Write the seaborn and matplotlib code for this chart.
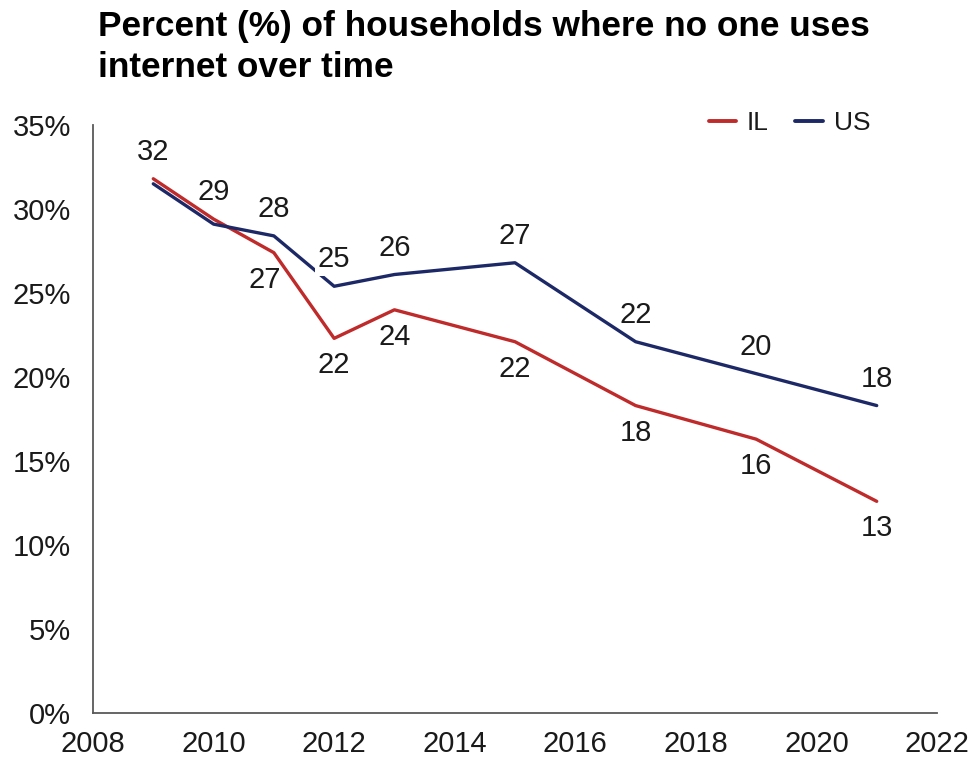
import matplotlib
matplotlib.use("Agg")
import matplotlib.pyplot as plt
from matplotlib.lines import Line2D
from matplotlib.ticker import PercentFormatter
import seaborn as sns
import pandas as pd

# Share of households where no one uses the internet (%)
years = [2009, 2010, 2011, 2012, 2013, 2015, 2017, 2019, 2021]
il_values = [31.8, 29.4, 27.4, 22.3, 24.0, 22.1, 18.3, 16.3, 12.6]
us_values = [31.5, 29.1, 28.4, 25.4, 26.1, 26.8, 22.1, 20.2, 18.3]
series_names = ["IL", "US"]
y_ticks = [0, 5, 10, 15, 20, 25, 30, 35]
x_ticks = [2008, 2010, 2012, 2014, 2016, 2018, 2020, 2022]

# Which labels sit above (+1) or below (-1) the line; 0 = no label
il_label_side = [1, 1, -1, -1, -1, -1, -1, -1, -1]
us_label_side = [0, 0, 1, 1, 1, 1, 1, 1, 1]

colors = {"IL": "#BF2A2A", "US": "#1C2966"}

df = pd.DataFrame({
    "year": years * 2,
    "value": il_values + us_values,
    "series": ["IL"] * len(years) + ["US"] * len(years),
})

sns.set_theme(style="white")
plt.rcParams["font.family"] = ["Liberation Sans", "DejaVu Sans"]

fig = plt.figure(figsize=(9.75, 7.58), dpi=100)
ax = fig.add_axes([93 / 975, 1 - 713 / 758, (937 - 93) / 975, (713 - 125) / 758])

sns.lineplot(data=df, x="year", y="value", hue="series", palette=colors,
             hue_order=series_names, linewidth=2.4, legend=False, ax=ax)

ax.set_xlim(2008, 2022)
ax.set_ylim(0, 35)
ax.set_xticks(x_ticks)
ax.set_yticks(y_ticks)
ax.yaxis.set_major_formatter(PercentFormatter(decimals=0))
ax.set_xlabel("")
ax.set_ylabel("")
ax.tick_params(axis="both", labelsize=21, colors="#000000", length=0)
ax.tick_params(axis="y", pad=16)
ax.tick_params(axis="x", pad=12)
for lab in ax.get_xticklabels() + ax.get_yticklabels():
    lab.set_color("#1a1a1a")

for side in ["top", "right"]:
    ax.spines[side].set_visible(False)
for side in ["left", "bottom"]:
    ax.spines[side].set_color("#595959")
    ax.spines[side].set_linewidth(1.3)

# Value labels; the 2012 US label sits on a white box over the line
for name, vals, sides in [("IL", il_values, il_label_side),
                          ("US", us_values, us_label_side)]:
    for x, v, s in zip(years, vals, sides):
        if s == 0:
            continue
        dx = -9 if (name == "IL" and x == 2011) else 0
        box = None
        if name == "US" and x == 2012:
            box = dict(boxstyle="square,pad=0.1", fc="white", ec="none")
        ax.annotate(f"{round(v):d}", xy=(x, v), xytext=(dx, 27 * s),
                    textcoords="offset pixels", ha="center", va="center",
                    fontsize=21, color="#1a1a1a", bbox=box, zorder=5)

handles = [Line2D([0], [0], color=colors[n], lw=2.8) for n in series_names]
fig.legend(handles, series_names, loc="center right", ncol=2,
           bbox_to_anchor=(870 / 975, 1 - 123 / 758), frameon=False,
           borderaxespad=0, borderpad=0,
           fontsize=19, handlelength=1.05, handletextpad=0.4, columnspacing=1.0,
           labelcolor="#1a1a1a")

fig.text(98 / 975, 1 - 10 / 758,
         "Percent (%) of households where no one uses\ninternet over time",
         ha="left", va="top", fontsize=25.4, fontweight="bold", color="#000000",
         linespacing=1.3)

fig.savefig("out.png", dpi=100, facecolor="white")
